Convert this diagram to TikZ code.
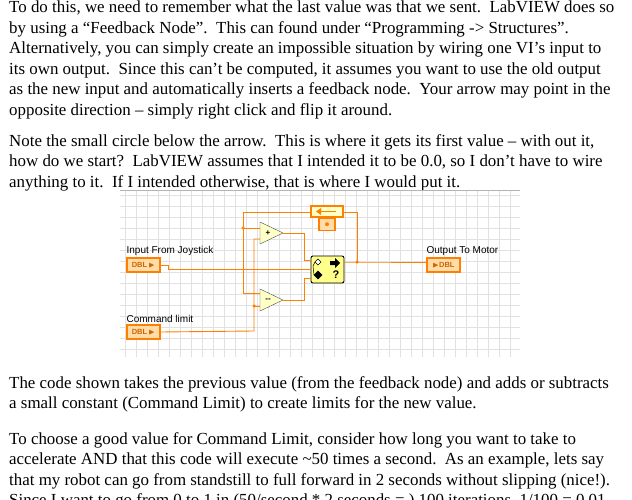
\documentclass[tikz,border=0pt]{standalone}
\usepackage{amssymb}
\usepackage{fontspec}
\setmainfont{Liberation Serif}
\newfontfamily\lvfont{Liberation Sans}
\usetikzlibrary{positioning,calc}
\definecolor{lvorange}{RGB}{255,128,0}
\definecolor{lvlight}{RGB}{255,220,170}
\definecolor{lvyellow}{RGB}{255,255,200}
\definecolor{gridgray}{RGB}{225,225,225}

\begin{document}
\begin{tikzpicture}[
x=1pt, y=-1pt,
para-node/.style = {anchor=north west, align=left, inner sep=0pt, font=\fontsize{16.9}{20.5}\selectfont},
lbl-node/.style = {anchor=south west, inner sep=0pt, font=\lvfont\fontsize{10}{11}\selectfont},
term-node/.style = {draw=lvorange, line width=1.2pt, fill=lvlight, minimum width=33pt, minimum height=14pt, inner sep=0pt, font=\lvfont\bfseries\fontsize{7.5}{7.5}\selectfont, text=lvorange!80!black},
wire/.style = {draw=lvorange, line width=0.9pt},
dot/.style = {circle, fill=lvorange, inner sep=0pt, minimum size=3.5pt}
]
\useasboundingbox (0,0) rectangle (632,500);

% text
\node [para-node] (p1) at (9,1) {To do this, we need to remember what the last value was that we sent.\ \ LabVIEW does so\\
by using a “Feedback Node”.\ \ This can found under “Programming -> Structures”.\\
Alternatively, you can simply create an impossible situation by wiring one VI’s input to\\
its own output.\ \ Since this can’t be computed, it assumes you want to use the old output\\
as the new input and automatically inserts a feedback node.\ \ Your arrow may point in the\\
opposite direction -- simply right click and flip it around.};
\node [para-node] (p2) at (9,134) {Note the small circle below the arrow.\ \ This is where it gets its first value -- with out it,\\
how do we start?\ \ LabVIEW assumes that I intended it to be 0.0, so I don’t have to wire\\
anything to it.\ \ If I intended otherwise, that is where I would put it.};
\node [para-node] (p3) at (9,376) {The code shown takes the previous value (from the feedback node) and adds or subtracts\\
a small constant (Command Limit) to create limits for the new value.};
\node [para-node] (p4) at (9,432) {To choose a good value for Command Limit, consider how long you want to take to\\
accelerate AND that this code will execute \textasciitilde50 times a second.\ \ As an example, lets say\\
that my robot can go from standstill to full forward in 2 seconds without slipping (nice!).\\
Since I want to go from 0 to 1 in (50/second * 2 seconds = ) 100 iterations, 1/100 = 0.01};

% block diagram grid
\fill [white] (120,190) rectangle (520,357);
\foreach \gx in {125,136,...,520} \draw [gridgray] (\gx,190) -- (\gx,357);
\foreach \gy in {195,206,...,357} \draw [gridgray] (120,\gy) -- (520,\gy);
\draw [gridgray!80!black, line width=0.8pt] (120,190) -- (520,190);

% terminals
\node [term-node] (joy) at (143.5,265) {DBL\,$\blacktriangleright$};
\node [term-node] (lim) at (143.5,332) {DBL\,$\blacktriangleright$};
\node [term-node] (motor) at (443.5,265) {$\blacktriangleright$DBL};
\node [lbl-node] at ($(joy.north west)+(0,-2)$) {Input From Joystick};
\node [lbl-node] at ($(lim.north west)+(0,-2)$) {Command limit};
\node [lbl-node] at ($(motor.north west)+(0,-2)$) {Output To Motor};

% add / subtract
\draw [fill=lvyellow, draw=black!70] (260,222) -- (283,233) -- (260,244) -- cycle;
\draw [fill=lvyellow, draw=black!70] (260,289) -- (283,300) -- (260,311) -- cycle;
\node [font=\lvfont\bfseries\fontsize{8}{8}\selectfont, inner sep=0pt] (add) at (268,233) {+};
\node [font=\lvfont\bfseries\fontsize{8}{8}\selectfont, inner sep=0pt] (sub) at (268,300) {--};

% select node
\node [draw=black, line width=0.9pt, fill=lvyellow!70!yellow, rounded corners=2pt, minimum width=33pt, minimum height=27pt, inner sep=0pt] (sel) at (327.5,269.5) {};
\draw [fill=white] (318,259) -- (321,262) -- (318,265) -- (315,262) -- cycle;
\draw [fill=black] (318,271) -- (322,275) -- (318,279) -- (314,275) -- cycle;
\draw [line width=0.5pt] (315,262) -- (313,266) -- (314,275);
\fill (330,261) -- (335,261) -- (335,258) -- (340,263) -- (335,268) -- (335,265) -- (330,265) -- cycle;
\node [font=\lvfont\bfseries\fontsize{11}{11}\selectfont, inner sep=0pt] (qm) at (336,275) {?};

% feedback node
\node [draw=lvorange, line width=1.2pt, fill=lvyellow, minimum width=32pt, minimum height=11pt, inner sep=0pt] (fb) at (327,211.5) {};
\node [draw=lvorange, line width=1.2pt, fill=lvlight, minimum width=16pt, minimum height=12pt, inner sep=0pt, below=0pt of fb] (init) {};
\fill [lvorange] (init.center) circle (2pt);
\draw [lvorange, line width=1.5pt] ($(fb.center)+(-9,0)$) -- ($(fb.center)+(9,0)$);
\fill [lvorange] ($(fb.center)+(-11,0)$) -- ($(fb.center)+(-6,-3.5)$) -- ($(fb.center)+(-6,3.5)$) -- cycle;

% wires
\coordinate (jout) at (357,262);
\coordinate (fbj) at (243,228);
\coordinate (limj) at (254,306);
\draw [wire] (sel.east |- jout) -- (jout) -- (motor.west |- jout);
\draw [wire] (jout) -- (357,212) -- (fb.east |- 0,212);
\draw [wire] (fb.west |- 0,212) -- (243,212) -- (243,293) -- (260,293);
\draw [wire] (fbj) -- (260,228);
\draw [wire] (joy.east) -- (168,265) -- (168,269) -- (sel.west |- 0,269);
\draw [wire] (lim.east) -- (254,331) -- (254,239) -- (260,239);
\draw [wire] (limj) -- (260,306);
\draw [wire] (283,233) -- (304,233) -- (304,260) -- (sel.west |- 0,260);
\draw [wire] (283,300) -- (304,300) -- (304,278) -- (sel.west |- 0,278);
\node [dot] at (jout) {};
\node [dot] at (fbj) {};
\node [dot] at (limj) {};
\end{tikzpicture}
\end{document}
